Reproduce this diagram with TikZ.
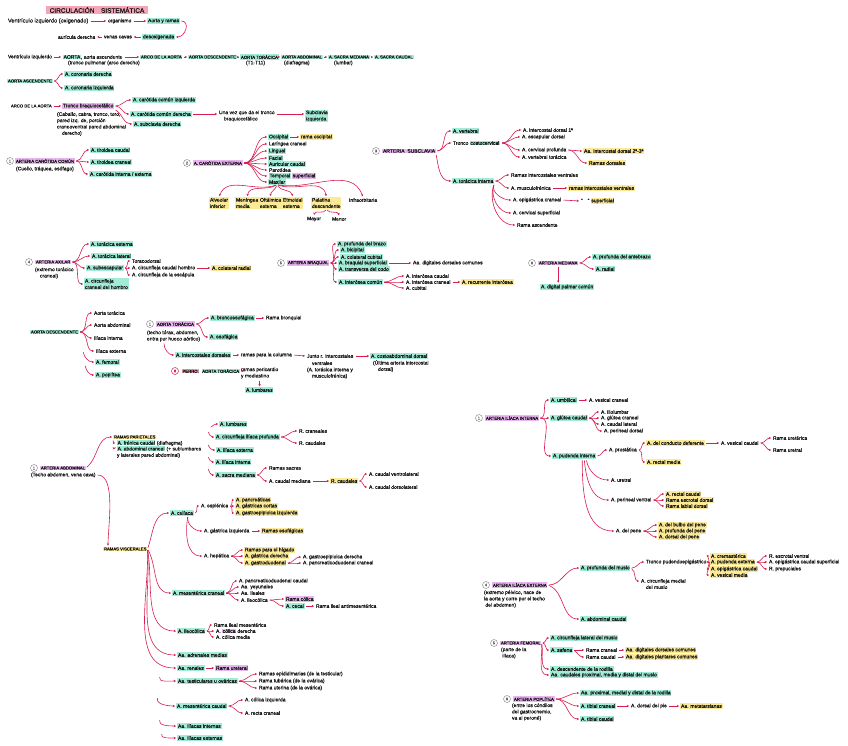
\documentclass[tikz,border=0pt]{standalone}
\usepackage{fontspec}
\setmainfont{Liberation Sans}[FakeBold=0.3]
\usetikzlibrary{arrows.meta}
\definecolor{ink}{HTML}{141414}
\definecolor{lk}{HTML}{D81E50}
\definecolor{tl}{HTML}{A2EBD6}
\definecolor{lv}{HTML}{E8B6EE}
\definecolor{yl}{HTML}{FBE996}
\definecolor{tp}{HTML}{F6A5B8}
\newcommand\fs{\fontsize{5}{6.3}\selectfont}
\newcommand\fcap{\fontsize{4.2}{5}\selectfont}
\newcommand\hc[2]{\begingroup\setlength{\fboxsep}{0.6pt}\colorbox{#1}{#2}\endgroup}
\newcommand\T[5]{\node[t,#4] (#1) at (#2,#3) {#5};}
\newcommand\B[2]{\draw[lnk] (#1.east) to[out=0,in=180] (#2.west);}
\newcommand\A[2]{\draw[lnk] (#1.east) -- (#2.west);}
\begin{document}
\begin{tikzpicture}[x=1pt,y=-1pt,
 t/.style={anchor=west,inner xsep=0.8pt,inner ysep=0.7pt,font=\fs,text=ink,align=left},
 capt/.style={font=\fcap},
 hl/.style={fill=tl}, hv/.style={fill=lv}, hy/.style={fill=yl},
 lnk/.style={draw=lk,line width=0.6pt,-{Stealth[length=2.3pt,width=2.3pt]},shorten <=1.2pt,shorten >=1pt},
 num/.style={circle,draw=ink!60,line width=0.35pt,inner sep=0.3pt,font=\fontsize{3.8}{4}\selectfont,text=ink!70,minimum size=7pt}]
\useasboundingbox (0,0) rectangle (848,746);
\fill[white] (0,0) rectangle (848,746);

% title
\node[fill=tp,inner xsep=4pt,inner ysep=1.5pt,font=\fontsize{6.5}{7}\selectfont,text=ink] (title) at (97,10) {CIRCULACIÓN\quad SISTEMÁTICA};

% row 1-2
\T{v1}{7}{21}{font=\fontsize{5.6}{6.3}\selectfont}{Ventrículo izquierdo (oxigenado)}
\T{org}{107}{21}{}{organismo}
\T{ayr}{147}{21}{hl}{Aorta y ramas}
\T{aud}{57}{37}{}{aurícula derecha}
\T{vc}{103}{37}{}{venas cavas}
\T{des}{142}{37}{hl}{desoxigenada}
\A{v1}{org}\A{org}{ayr}
\draw[lnk] (vc.west) -- (aud.east);
\draw[lnk] (des.west) -- (vc.east);
\draw[lnk] (ayr.east) to[out=0,in=0,looseness=1.6] (des.east);

% row 3
\T{v2}{7}{57}{}{Ventrículo izquierdo}
\T{ao}{62}{57}{}{\hc{tl}{AORTA}, aorta ascendente}
\T{aoa}{67}{63}{}{(tronco pulmonar (arco derecho)}
\T{arc}{140}{57}{capt,hl}{ARCO DE LA AORTA}
\T{ades}{188}{57}{capt,hl}{AORTA DESCENDENTE}
\T{ator}{240}{57}{capt,hl}{AORTA TORÁCICA}
\T{ator2}{245}{63}{}{(T1-T11)}
\T{aab}{281}{57}{capt,hl}{AORTA ABDOMINAL}
\T{aab2}{283}{63}{}{(diafragma)}
\T{asm}{328}{57}{capt,hl}{A. SACRA MEDIANA}
\T{asm2}{333}{63}{}{(lumbar)}
\T{asc}{374}{57}{capt,hl}{A. SACRA CAUDAL}
\A{v2}{ao}\A{ao}{arc}\A{arc}{ades}\A{ades}{ator}\A{ator}{aab}\A{aab}{asm}\A{asm}{asc}

% aorta ascendente
\T{aasc}{7}{81}{capt,hl}{AORTA ASCENDENTE}
\T{cd}{64}{74}{hl}{A. coronaria derecha}
\T{ci}{64}{88}{hl}{A. coronaria izquierda}
\B{aasc}{cd}\B{aasc}{ci}

% arco de la aorta
\T{arc2}{10}{106}{capt}{ARCO DE LA AORTA}
\T{tbc}{62}{106}{hv}{Tronco braquiocefálico}
\T{tbc2}{56}{124}{}{(Caballo, cabra, tronco, toro,\\ pared izq. de, porción\\ craneoventral pared abdominal\\ \quad derecho)}
\T{ccizq}{132}{100}{hl}{A. carótida común izquierda}
\T{ccder}{130}{114}{hl}{A. carótida común derecha}
\T{scd}{133}{124}{hl}{A. subclavia derecha}
\T{uvq}{218}{116}{}{Una vez que da el tronco\\ \quad braquiocefálico}
\T{sci}{305}{116}{hl}{Subclavia\\ izquierda}
\A{arc2}{tbc}
\B{tbc}{ccizq}\B{tbc}{ccder}
\draw[lnk] (tbc.south east) to[out=-30,in=180] (scd.west);
\draw[lnk] (ccder.east) -- (ccder.east -| uvq.west);
\draw[lnk] (uvq.east |- ccder.east) -- (sci.west |- ccder.east);

% carotida comun
\node[num] (n1) at (10,161) {1};
\T{acc}{15}{161}{capt,hv}{ARTERIA CARÓTIDA COMÚN}
\T{acc2}{15}{169}{}{(Cuello, tráquea, esófago)}
\T{tc}{90}{150}{hl}{A. tiroidea caudal}
\T{tcr}{90}{162}{hl}{A. tiroidea craneal}
\T{cie}{89}{174}{hl}{A. carótida interna / externa}
\B{acc}{tc}\B{acc}{tcr}\B{acc}{cie}

% carotida externa
\node[num] (n2) at (187,163) {2};
\T{cex}{193}{163}{capt,hv}{A. CARÓTIDA EXTERNA}
\T{occ}{268}{137}{hl}{Occipital}
\T{rocc}{300}{137}{hy}{rama occipital}
\T{lar}{268}{144}{}{Laríngea craneal}
\T{lin}{268}{151}{hl}{Lingual}
\T{fac}{268}{158}{hl}{Facial}
\T{auc}{268}{164}{hl}{Auricular caudal}
\T{par}{268}{170}{}{Parotídea}
\T{tem}{268}{176}{}{\hc{tl}{Temporal} \hc{lv}{superficial}}
\T{max}{268}{182}{hl}{Maxilar}
\B{cex}{occ}\B{cex}{lar}\B{cex}{lin}\B{cex}{fac}\B{cex}{auc}\B{cex}{par}\B{cex}{tem}\B{cex}{max}
\A{occ}{rocc}
\T{alv}{209}{203}{hy}{Alveolar\\ inferior}
\T{men}{235}{203}{hy}{Meníngea\\ media}
\T{oft}{259}{203}{hy}{Oftálmica\\ externa}
\T{etm}{282}{203}{hy}{Etmoidal\\ externa}
\T{pal}{311}{203}{hy}{Palatina\\ descendente}
\T{inf}{348}{200}{}{Infraorbitaria}
\T{may}{306}{219}{}{Mayor}
\T{men2}{331}{219}{}{Menor}
\draw[lnk] (max.south) to[out=200,in=70] (alv.north);
\draw[lnk] (max.south) to[out=210,in=80] (men.north);
\draw[lnk] (max.south) to[out=250,in=90] (oft.north);
\draw[lnk] (max.south) to[out=-60,in=100] (etm.north);
\draw[lnk] (max.south) to[out=-20,in=100] (pal.north);
\draw[lnk] (max.south) to[out=-10,in=110] (inf.north);
\draw[lnk] (pal.south) to[out=250,in=80] (may.north);
\draw[lnk] (pal.south) to[out=-60,in=100] (men2.north);

% subclavia
\node[num] (n3) at (376,151) {3};
\T{sub}{382}{151}{font=\fontsize{5}{6}\selectfont,hv}{ARTERIA\ \ SUBCLAVIA}
\T{vert}{452}{131}{hl}{A. vertebral}
\T{tcc}{452}{143}{}{Tronco \hc{tl}{costocervical}}
\T{tin}{452}{181}{hl}{A. torácica interna}
\T{icd}{522}{130}{}{A. intercostal dorsal 1ª}
\T{esc}{521}{137}{}{A. escapular dorsal}
\T{cpr}{521}{150}{}{A. cervical profunda}
\T{vto}{521}{157}{}{A. vertebral torácica}
\T{aid}{583}{151}{hy}{Aa. intercostal dorsal 2ª-3ª}
\T{rd}{588}{163}{hy}{Ramas dorsales}
\T{riv}{510}{175}{}{Ramas intercostales ventrales}
\T{mus}{510}{188}{}{A. musculofrénica}
\T{riv2}{568}{188}{hy}{ramas intercostales ventrales}
\T{epi}{512}{200}{}{A. epigástrica craneal}
\T{epi2}{580}{201}{}{"\quad" \hc{yl}{superficial}}
\T{csup}{512}{213}{}{A. cervical superficial}
\T{rasc}{516}{225}{}{Rama ascendente}
\B{sub}{vert}\B{sub}{tcc}
\draw[lnk] (sub.south east) to[out=-80,in=180] (tin.west);
\B{tcc}{icd}\B{tcc}{esc}\B{tcc}{cpr}\B{tcc}{vto}
\B{cpr}{aid}\B{cpr}{rd}
\B{tin}{riv}\B{tin}{mus}
\draw[lnk] (tin.south east) to[out=-110,in=180] (epi.west);
\draw[lnk] (tin.south east) to[out=-110,in=180] (csup.west);
\draw[lnk] (tin.south east) to[out=-110,in=180] (rasc.west);
\A{mus}{riv2}\A{epi}{epi2}

% axilar
\node[num] (n4) at (29,262) {4};
\T{axi}{35}{262}{capt,hv}{ARTERIA AXILAR}
\T{axi2}{34}{273}{}{(extremo torácico\\ \quad craneal)}
\T{tex}{90}{244}{hl}{A. torácica externa}
\T{tla}{91}{256}{hl}{A. torácica lateral}
\T{subes}{86}{268}{hl}{A. subescapular}
\T{ccrh}{84}{284}{hl}{A. circunfleja\\ craneal del hombro}
\T{tdor}{131}{261}{}{Toracodorsal}
\T{cch}{131}{268}{}{A. circunfleja caudal hombro}
\T{colr}{211}{268}{hy}{A. colateral radial}
\T{cesc}{131}{275}{}{A. circunfleja de la escápula}
\B{axi}{tex}\B{axi}{tla}\B{axi}{subes}\B{axi}{ccrh}
\B{subes}{tdor}\B{subes}{cch}\B{subes}{cesc}
\A{cch}{colr}

% braquial
\node[num] (n5) at (281,263) {5};
\T{bra}{287}{263}{capt,hv}{ARTERIA BRAQUIAL}
\T{pbr}{337}{244}{hl}{A. profunda del brazo}
\T{bic}{340}{250}{hl}{A. bicipital}
\T{ccu}{340}{257}{hl}{A. colateral cubital}
\T{bsu}{338}{263}{hl}{A. braquial superficial}
\T{ddc}{412}{263}{}{Aa. digitales dorsales comunes}
\T{tco}{338}{269}{hl}{A. transversa del codo}
\T{ioc}{338}{282}{hl}{A. interósea común}
\T{icau}{405}{276}{}{A. interósea caudal}
\T{icra}{405}{282}{}{A. interósea craneal}
\T{rint}{461}{282}{hy}{A. recurrente interósea}
\T{cub}{405}{288}{}{A. cubital}
\B{bra}{pbr}\B{bra}{bic}\B{bra}{ccu}\B{bra}{bsu}\B{bra}{tco}\B{bra}{ioc}
\A{bsu}{ddc}
\B{ioc}{icau}\B{ioc}{icra}\B{ioc}{cub}
\A{icra}{rint}

% mediana
\node[num] (n6) at (532,263) {6};
\T{med}{538}{263}{capt,hv}{ARTERIA MEDIANA}
\T{pab}{592}{257}{hl}{A. profunda del antebrazo}
\T{rad}{595}{269}{hl}{A. radial}
\T{dpc}{540}{287}{hl}{A. digital palmar común}
\B{med}{pab}\B{med}{rad}
\draw[lnk] (med.south) -- (med.south |- dpc.north);

% aorta descendente
\T{adsc}{30}{332}{capt,hl}{AORTA DESCENDENTE}
\T{at}{93}{313}{}{Aorta torácica}
\T{aab3}{93}{325}{}{Aorta abdominal}
\T{ii}{93}{338}{}{Ilíaca interna}
\T{ie}{95}{351}{}{Ilíaca externa}
\T{fem}{95}{362}{hl}{A. femoral}
\T{pop}{95}{375}{hl}{A. poplítea}
\B{adsc}{at}\B{adsc}{aab3}\B{adsc}{ii}\B{adsc}{ie}
\draw[lnk] ([xshift=-12pt]ie.west) to[out=-80,in=180] (fem.west);
\draw[lnk] ([xshift=-10pt]fem.south west) to[out=-80,in=180] (pop.west);

% aorta toracica
\node[num] (n7) at (150,324) {1};
\T{ator3}{156}{324}{capt,hv}{AORTA TORÁCICA}
\T{ator4}{146}{336}{}{(techo tórax, abdomen,\\ entra por hueco aórtico)}
\T{beso}{210}{318}{hl}{A. broncoesofágica}
\T{rbr}{265}{318}{}{Rama bronquial}
\T{eso}{209}{337}{hl}{A. esofágica}
\T{ids}{175}{355}{hl}{A. intercostales dorsales}
\T{rpc}{240}{355}{}{ramas para la columna}
\T{jri}{306}{356}{}{Junto r. intercostales}
\T{jri2}{306}{370}{}{\quad ventrales\\ (A. torácica interna y\\ \quad musculofrénica)}
\T{cad}{370}{356}{hl}{A. costoabdominal dorsal}
\T{cad2}{372}{366}{}{(Última arteria intercostal\\ \quad dorsal)}
\B{ator3}{beso}\B{ator3}{eso}
\draw[lnk] ([xshift=18pt]ator4.south west) to[out=-90,in=180] (ids.west);
\A{beso}{rbr}\A{ids}{rpc}\A{rpc}{jri}\A{jri}{cad}
\node[num,draw=lk,text=lk,line width=0.5pt] (n8) at (175,371) {8};
\T{per}{181}{371}{capt}{\hc{tp}{PERRO:}\ \ \hc{tl}{AORTA TORÁCICA}}
\T{rpm}{240}{373}{}{ramas pericardio\\ y mediastino}
\T{lum}{245}{390}{hl}{A. lumbares}
\draw[lnk] (per.east) -- (per.east -| rpm.west);
\draw[lnk] (rpm.south) -- (rpm.south |- lum.north);

% arteria abdominal
\node[num] (n9) at (34,468) {1};
\T{abd}{40}{468}{capt,hv}{ARTERIA ABDOMINAL}
\T{abd2}{30}{475}{}{(Techo abdomen, vena cava)}
\T{rpar}{113}{437}{capt,hy}{RAMAS PARIETALES}
\T{fren}{116}{443}{}{\hc{tl}{A. frénica caudal} (diafragma)}
\T{acr}{116}{452}{}{\hc{tl}{A. abdominal craneal} (+ sublumbares\\ y laterales pared abdominal)}
\draw[lnk] (abd.east) to[out=40,in=180] (rpar.west);
\draw[lnk] (rpar.south west) to[out=-90,in=180] (fren.west);
\draw[lnk] (fren.south west) to[out=-90,in=180] ([yshift=-3pt]acr.north west);
\coordinate (m1) at (210,428);
\coordinate (m2) at (208,431);
\coordinate (m3) at (208,444);
\coordinate (m4) at (208,456);
\coordinate (m5) at (208,468);
\T{lumb}{219}{424}{hl}{A. lumbares}
\T{cip}{215}{437}{hl}{A. circunfleja ilíaca profunda}
\T{rcr}{298}{431}{}{R. craneales}
\T{rca}{298}{443}{}{R. caudales}
\T{iex}{216}{450}{hl}{A. ilíaca externa}
\T{iin}{215}{462}{hl}{A. ilíaca interna}
\T{sme}{215}{475}{hl}{A. sacra mediana}
\T{rsac}{268}{468}{}{Ramas sacras}
\T{cme}{268}{481}{}{A. caudal mediana}
\T{rcau}{330}{481}{hy}{R. caudales}
\T{cvl}{368}{474}{}{A. caudal ventrolateral}
\T{cdl}{368}{487}{}{A. caudal dorsolateral}
\draw[lnk] (m1) to[out=45,in=180] (lumb.west);
\draw[lnk] (m2) to[out=-80,in=180] (cip.west);
\draw[lnk] (m3) to[out=-80,in=180] (iex.west);
\draw[lnk] (m4) to[out=-80,in=180] (iin.west);
\draw[lnk] (m5) to[out=-80,in=180] (sme.west);
\B{cip}{rcr}\B{cip}{rca}
\B{sme}{rsac}\B{sme}{cme}
\A{cme}{rcau}
\B{rcau}{cvl}\B{rcau}{cdl}

% ramas viscerales
\T{rvis}{103}{549}{capt,hy}{RAMAS VISCERALES}
\draw[lnk] (abd2.east) to[out=0,in=90,looseness=0.7] ([xshift=5pt]rvis.north west);
\T{cel}{170}{513}{hl}{A. celíaca}
\T{mcr}{172}{593}{hl}{A. mesentérica craneal}
\T{ileo}{177}{631}{hl}{A. ileocólica}
\T{adr}{177}{655}{hl}{Aa. adrenales medias}
\T{ren}{177}{668}{hl}{Aa. renales}
\T{urt}{215}{668}{hv}{Rama ureteral}
\T{tes}{177}{681}{hl}{Aa. testiculares u ováricas}
\T{mca}{176}{706}{hl}{A. mesentérica caudal}
\T{iliin}{177}{726}{hl}{Aa. ilíacas internas}
\T{iliex}{177}{738}{hl}{Aa. ilíacas externas}
\draw[lnk] (rvis.east) to[out=70,in=180] (cel.west);
\draw[lnk] (rvis.east) to[out=-60,in=180] (mcr.west);
\draw[lnk] (rvis.east) to[out=-80,in=180] (ileo.west);
\draw[lnk] (rvis.east) to[out=-85,in=180] (adr.west);
\draw[lnk] (rvis.east) to[out=-88,in=180] (ren.west);
\A{ren}{urt}
\coordinate (h1) at (160,676);
\coordinate (h2) at (158,697);
\coordinate (h3) at (160,719);
\coordinate (h4) at (162,733);
\draw[lnk] (h1) to[out=-110,in=180] (tes.west);
\draw[lnk] (h2) to[out=-110,in=180] (mca.west);
\draw[lnk] (h3) to[out=-110,in=180] (iliin.west);
\draw[lnk] (h4) to[out=-110,in=180] (iliex.west);

% celiaca
\T{esp}{200}{506}{}{A. esplénica}
\T{pan}{235}{500}{hy}{A. pancreáticas}
\T{gco}{235}{506}{hy}{A. gástricas cortas}
\T{gei}{235}{513}{hy}{A. gastroepiploica izquierda}
\T{giz}{203}{531}{}{A. gástrica izquierda}
\T{res}{261}{531}{hy}{Ramas esofágicas}
\T{hep}{203}{556}{}{A. hepática}
\T{rhig}{244}{550}{hy}{Ramas para el hígado}
\T{gde}{244}{556}{hy}{A. gástrica derecha}
\T{gdu}{244}{563}{hy}{A. gastroduodenal}
\T{ged}{302}{557}{}{A. gastroepiploica derecha}
\T{pdc}{302}{563}{}{A. pancreaticoduodenal craneal}
\B{cel}{esp}
\draw[lnk] ([xshift=-6pt]cel.south east) to[out=-100,in=180] (giz.west);
\draw[lnk] ([xshift=-6pt]cel.south east) to[out=-100,in=180] (hep.west);
\B{esp}{pan}\B{esp}{gco}\B{esp}{gei}
\A{giz}{res}
\B{hep}{rhig}\B{hep}{gde}\B{hep}{gdu}
\B{gdu}{ged}\B{gdu}{pdc}

% mesenterica craneal
\T{pdca}{238}{581}{}{A. pancreaticoduodenal caudal}
\T{yey}{240}{587}{}{Aa. yeyunales}
\T{ile}{240}{593}{}{Aa. ileales}
\T{ileoc}{240}{600}{}{A. ileocólica}
\T{rcol}{285}{599}{hv}{Rama cólica}
\T{cec}{285}{606}{hl}{A. cecal}
\T{rian}{315}{606}{}{Rama ileal antimesentérica}
\B{mcr}{pdca}\B{mcr}{yey}\B{mcr}{ile}\B{mcr}{ileoc}
\B{ileoc}{rcol}\B{ileoc}{cec}
\A{cec}{rian}
\T{rime}{213}{625}{}{Rama ileal mesentérica}
\T{cde}{215}{631}{}{A. \hc{lv}{cólica} derecha}
\T{cmed}{215}{637}{}{A. cólica media}
\B{ileo}{rime}\B{ileo}{cde}\B{ileo}{cmed}

\T{repi}{258}{674}{}{Ramas epididimarias (de la testicular)}
\T{rtub}{258}{681}{}{Rama tubárica (de la ovárica)}
\T{rute}{258}{688}{}{Rama uterina (de la ovárica)}
\B{tes}{repi}\B{tes}{rtub}\B{tes}{rute}
\T{cizq}{244}{700}{}{A. cólica izquierda}
\T{rcra}{244}{713}{}{A. recta craneal}
\B{mca}{cizq}\B{mca}{rcra}

% iliaca interna
\node[num] (n10) at (479,418) {1};
\T{iint}{485}{418}{capt,hv}{ARTERIA ILÍACA INTERNA}
\T{umb}{550}{400}{hl}{A. umbilical}
\T{vcr}{588}{400}{}{A. vesical craneal}
\T{glc}{550}{418}{hl}{A. glútea caudal}
\T{ilu}{600}{412}{}{A. iliolumbar}
\T{glcr}{600}{418}{}{A. glútea craneal}
\T{cla}{600}{424}{}{A. caudal lateral}
\T{pdo}{603}{431}{}{A. perineal dorsal}
\T{pin}{552}{456}{hl}{A. pudenda interna}
\T{pro}{608}{450}{}{A. prostática}
\T{cdef}{646}{443}{hy}{A. del conducto deferente}
\T{vca}{720}{443}{}{A. vesical caudal}
\T{rurc}{772}{438}{}{Rama uretérica}
\T{rure}{772}{450}{}{Rama uretral}
\T{rme}{646}{462}{hy}{A. rectal media}
\T{ure}{610}{480}{}{A. uretral}
\T{pve}{610}{500}{}{A. perineal ventral}
\T{rec}{665}{494}{hy}{A. rectal caudal}
\T{red}{665}{500}{hy}{Rama escrotal dorsal}
\T{rld}{665}{506}{hy}{Rama labial dorsal}
\T{pen}{615}{531}{}{A. del pene}
\T{bpe}{658}{525}{hy}{A. del bulbo del pene}
\T{ppe}{658}{531}{hy}{A. profunda del pene}
\T{dpe}{658}{537}{hy}{A. dorsal del pene}
\B{iint}{umb}\B{iint}{glc}\B{iint}{pin}
\A{umb}{vcr}
\B{glc}{ilu}\B{glc}{glcr}\B{glc}{cla}\B{glc}{pdo}
\B{pin}{pro}
\B{pro}{cdef}\B{pro}{rme}
\A{cdef}{vca}
\B{vca}{rurc}\B{vca}{rure}
\draw[lnk] ([xshift=-10pt]pin.south east) to[out=-80,in=180] (ure.west);
\draw[lnk] ([xshift=-12pt]pin.south east) to[out=-85,in=180] (pve.west);
\draw[lnk] ([xshift=-14pt]pin.south east) to[out=-90,in=180] (pen.west);
\B{pve}{rec}\B{pve}{red}\B{pve}{rld}
\B{pen}{bpe}\B{pen}{ppe}\B{pen}{dpe}

% iliaca externa
\node[num] (n11) at (486,585) {4};
\T{iext}{492}{585}{capt,hv}{ARTERIA ILÍACA EXTERNA}
\T{iext2}{483}{599}{}{(extremo pélvico, nace de\\ la aorta y corre por el techo\\ \ del abdomen)}
\T{pmu}{580}{568}{hl}{A. profunda del muslo}
\T{tpe}{645}{562}{}{Tronco pudendoepigástrico}
\T{cre}{710}{556}{hy}{A. cremastérica}
\T{pex}{710}{562}{hy}{A. pudenda externa}
\T{epc}{710}{569}{hy}{A. epigástrica caudal}
\T{vme}{710}{575}{hy}{A. vesical media}
\T{esv}{768}{556}{}{R. escrotal ventral}
\T{ecs}{768}{562}{}{A. epigástrica caudal superficial}
\T{rpre}{768}{569}{}{R. prepuciales}
\T{cmm}{640}{584}{}{A. circunfleja medial\\ \quad del muslo}
\T{acd}{580}{619}{hl}{A. abdominal caudal}
\B{iext}{pmu}
\draw[lnk] (iext.east) to[out=-20,in=180] (acd.west);
\B{pmu}{tpe}
\draw[lnk] (pmu.east) to[out=-30,in=180] ([yshift=3pt]cmm.west);
\B{tpe}{cre}\B{tpe}{pex}\B{tpe}{epc}\B{tpe}{vme}
\B{pex}{esv}\B{pex}{ecs}\B{pex}{rpre}

% femoral
\node[num] (n12) at (494,643) {5};
\T{fmr}{500}{643}{capt,hv}{ARTERIA FEMORAL}
\T{fmr2}{500}{653}{}{(parte de la\\ \ ilíaca)}
\T{clm}{550}{638}{hl}{A. circunfleja lateral del muslo}
\T{saf}{550}{650}{hl}{A. safena}
\T{rcrs}{585}{650}{}{Rama craneal}
\T{ddc2}{625}{650}{hy}{Aa. digitales dorsales comunes}
\T{rcds}{585}{657}{}{Rama caudal}
\T{dpc2}{625}{657}{hy}{Aa. digitales plantares comunes}
\T{dro}{550}{669}{hl}{A. descendente de la rodilla}
\T{cpm}{550}{675}{hl}{Aa. caudales proximal, media y distal del muslo}
\B{fmr}{clm}\B{fmr}{saf}
\draw[lnk] (fmr.east) to[out=-80,in=180] (dro.west);
\draw[lnk] (fmr.east) to[out=-85,in=180] (cpm.west);
\A{saf}{rcrs}
\draw[lnk] (saf.east) to[out=-30,in=180] (rcds.west);
\A{rcrs}{ddc2}\A{rcds}{dpc2}

% poplitea
\node[num] (n13) at (507,699) {6};
\T{pop2}{513}{699}{capt,hv}{ARTERIA POPLÍTEA}
\T{pop3}{511}{712}{}{(entre los cóndilos\\ del gastrocnemio,\\ va al peroné)}
\T{pmd}{580}{693}{hl}{Aa. proximal, medial y distal de la rodilla}
\T{tcr2}{580}{706}{hl}{A. tibial craneal}
\T{dpi}{630}{706}{}{A. dorsal del pie}
\T{mtt}{680}{706}{hy}{Aa. metatarsianas}
\T{tca}{580}{719}{hl}{A. tibial caudal}
\B{pop2}{pmd}\B{pop2}{tcr2}\B{pop2}{tca}
\A{tcr2}{dpi}\A{dpi}{mtt}
\end{tikzpicture}
\end{document}
